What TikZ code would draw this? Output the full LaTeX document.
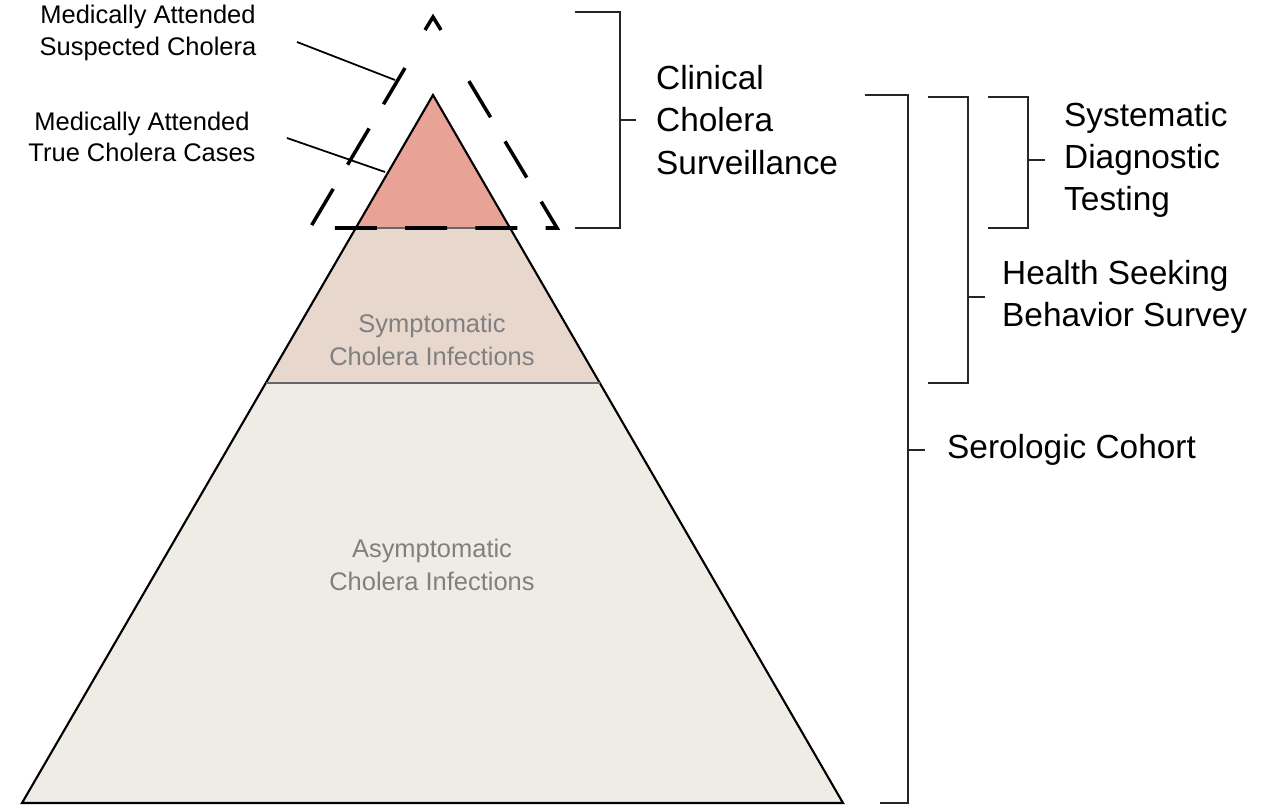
\documentclass[tikz,border=0pt]{standalone}
\usepackage{fontspec}
\setmainfont{Liberation Sans}
\begin{document}
\begin{tikzpicture}[x=0.02cm,y=-0.02cm,
  lbl/.style={align=left,anchor=west,font=\fontsize{19}{24}\selectfont},
  sm/.style={align=center,font=\fontsize{14.5}{18}\selectfont},
  lay/.style={align=center,text=black!50,font=\fontsize{14.5}{19}\selectfont},
  br/.style={line width=1.2pt,black!85},
  dsh/.style={line width=2pt,dash pattern=on 24pt off 16pt}]
\useasboundingbox (0,0) rectangle (1280,808);
\coordinate (A) at (433,95);
\coordinate (BL) at (22,803);
\coordinate (BR) at (843,803);
\fill[fill={rgb,255:red,238;green,236;blue,228}] (266,383)--(600,383)--(BR)--(BL)--cycle;
\fill[fill={rgb,255:red,232;green,215;blue,205}] (356,228)--(510,228)--(600,383)--(266,383)--cycle;
\fill[fill={rgb,255:red,232;green,162;blue,150}] (A)--(510,228)--(356,228)--cycle;
\draw[line width=1.2pt] (A)--(BR)--(BL)--cycle;
\draw[line width=1pt,black!60] (356,228)--(510,228) (266,383)--(600,383);
% dashed triangle
\draw[dsh,dash phase=0pt] (405,68)--(310,228)--(557,228)--(461,68);
\draw[line width=2pt] (425,30)--(433,17)--(441,30);
\node[lay] (sym) at (432,340) {Symptomatic\\Cholera Infections};
\node[lay] (asym) at (432,565) {Asymptomatic\\Cholera Infections};
\node[sm] (mas) at (148,33) {Medically Attended\\Suspected Cholera};
\node[sm] (mat) at (142,137) {Medically Attended\\True Cholera Cases};
\coordinate (p1) at (395,80); \coordinate (p2) at (385,172);
\draw[line width=1pt] (297,42)--(p1);
\draw[line width=1pt] (287,138)--(p2);
% brackets
\draw[br] (575,12)--(620,12)--(620,228)--(575,228) (620,120)--(636,120);
\draw[br] (865,95)--(908,95)--(908,803)--(880,803) (908,450)--(925,450);
\draw[br] (928,97)--(968,97)--(968,383)--(928,383) (968,297)--(985,297);
\draw[br] (988,97)--(1028,97)--(1028,228)--(988,228) (1028,160)--(1045,160);
\node[lbl] (cl) at (650,120) {Clinical\\Cholera\\Surveillance};
\node[lbl] (sdt) at (1058,160) {Systematic\\Diagnostic\\Testing};
\node[lbl] (hs) at (996,297) {Health Seeking\\Behavior Survey};
\node[lbl] (sc) at (941,450) {Serologic Cohort};
\end{tikzpicture}
\end{document}
